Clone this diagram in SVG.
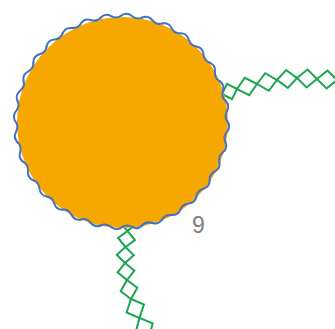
<svg xmlns="http://www.w3.org/2000/svg" width="335" height="329" viewBox="0 0 335 329">
  <style>
    .chain { fill: none; stroke: #1AA550; stroke-width: 2; stroke-linejoin: miter; }
    .wave { fill: none; stroke: #4472C4; stroke-width: 2; stroke-linecap: round; }
    .body { fill: #F6A800; stroke: none; }
    .lbl { font-family: "Liberation Sans", Arial, sans-serif; font-size: 23px; fill: #808080; }
  </style>
  <defs>
    <path id="w" class="wave" d="M106,0 Q109.60,5.384 105.49,10.39 T103.96,20.68"/>
  </defs>
  <rect width="335" height="329" fill="#FFFFFF"/>
  <g id="connectors">
    <g id="edge-bottom">
      <polyline class="chain" points="129,215 120.3,222.3 127.5,231 118.1,238 125.5,247 116.8,254.8 125,263 117.6,272.4 127,280 120.7,291.2 131,299 126.6,312.4 139.5,318 135.8,331.7 149,337"/>
      <polyline class="chain" points="129,215 136.2,223.8 127.5,231 134.9,240 125.5,247 133.8,255.2 125,263 134.4,270.6 127,280 137.3,287.8 131,299 143.9,304.6 139.5,318 152.7,323.3 149,337"/>
    </g>
    <g id="edge-right">
      <polyline class="chain" points="222,94 227,83.9 237,89 244.8,77.8 257,84 265.2,73.2 277,80 286.1,70 297,78 307.5,69.5 317,79 327.5,70.5 337,80"/>
      <polyline class="chain" points="222,94 232,99.1 237,89 249.2,95.2 257,84 268.8,90.8 277,80 287.9,88 297,78 306.6,87.5 317,79 326.6,88.5 337,80"/>
    </g>
  </g>
  <g id="node-9">
    <circle class="body" cx="122.5" cy="122.5" r="105.5"/>
    <g transform="translate(121.5,121.5)">
      <use href="#w" transform="rotate(0)"/>
      <use href="#w" transform="rotate(11.25)"/>
      <use href="#w" transform="rotate(22.5)"/>
      <use href="#w" transform="rotate(33.75)"/>
      <use href="#w" transform="rotate(45)"/>
      <use href="#w" transform="rotate(56.25)"/>
      <use href="#w" transform="rotate(67.5)"/>
      <use href="#w" transform="rotate(78.75)"/>
      <use href="#w" transform="rotate(90)"/>
      <use href="#w" transform="rotate(101.25)"/>
      <use href="#w" transform="rotate(112.5)"/>
      <use href="#w" transform="rotate(123.75)"/>
      <use href="#w" transform="rotate(135)"/>
      <use href="#w" transform="rotate(146.25)"/>
      <use href="#w" transform="rotate(157.5)"/>
      <use href="#w" transform="rotate(168.75)"/>
      <use href="#w" transform="rotate(180)"/>
      <use href="#w" transform="rotate(191.25)"/>
      <use href="#w" transform="rotate(202.5)"/>
      <use href="#w" transform="rotate(213.75)"/>
      <use href="#w" transform="rotate(225)"/>
      <use href="#w" transform="rotate(236.25)"/>
      <use href="#w" transform="rotate(247.5)"/>
      <use href="#w" transform="rotate(258.75)"/>
      <use href="#w" transform="rotate(270)"/>
      <use href="#w" transform="rotate(281.25)"/>
      <use href="#w" transform="rotate(292.5)"/>
      <use href="#w" transform="rotate(303.75)"/>
      <use href="#w" transform="rotate(315)"/>
      <use href="#w" transform="rotate(326.25)"/>
      <use href="#w" transform="rotate(337.5)"/>
      <use href="#w" transform="rotate(348.75)"/>
    </g>
    <text class="lbl" x="192" y="233">9</text>
  </g>
</svg>
